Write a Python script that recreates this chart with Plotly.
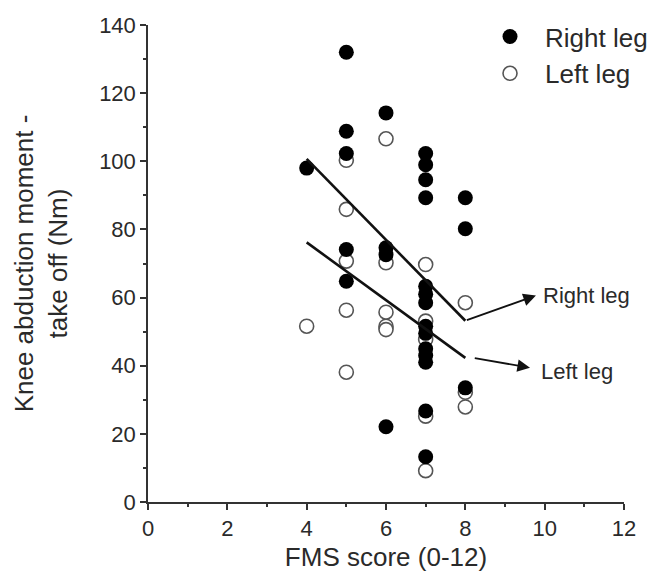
import plotly.graph_objects as go

# FMS score categories and knee abduction moments (Nm)
right_x = [4, 5, 5, 5, 5, 5, 6, 6, 6, 6,
           7, 7, 7, 7, 7, 7, 7, 7, 7, 7, 7, 7, 7, 7,
           8, 8, 8]
right_y = [98.0, 132.0, 108.8, 102.3, 74.1, 64.8, 114.2, 74.6, 72.6, 22.1,
           102.3, 99.0, 94.6, 89.3, 63.3, 61.0, 58.5, 51.6, 49.5, 45.0, 43.0, 41.0, 26.7, 13.3,
           89.3, 80.2, 33.5]

left_x = [4, 5, 5, 5, 5, 5, 6, 6, 6, 6, 6,
          7, 7, 7, 7, 7, 8, 8, 8]
left_y = [51.6, 100.3, 85.9, 70.7, 56.3, 38.1, 106.6, 70.2, 55.7, 51.6, 50.6,
          69.7, 53.1, 47.7, 25.2, 9.2, 58.5, 32.2, 27.9]

# regression line end points
fit_x = [4, 8]
right_fit = [100.7, 53.2]
left_fit = [76.2, 42.3]

# arrow tips for the line labels
right_tip = (9.78, 60.6)
left_tip = (9.63, 39.4)

FONT = "Arial, Liberation Sans, sans-serif"
TXT = "#2a2a2a"

fig = go.Figure()

fig.add_trace(go.Scatter(
    x=left_x, y=left_y, mode="markers", name="Left leg", legendrank=2,
    marker=dict(symbol="circle", size=14, color="white",
                line=dict(color="#555555", width=1.6)),
))
fig.add_trace(go.Scatter(
    x=right_x, y=right_y, mode="markers", name="Right leg", legendrank=1,
    marker=dict(symbol="circle", size=15, color="black",
                line=dict(color="black", width=0)),
))
fig.add_trace(go.Scatter(
    x=fit_x, y=right_fit, mode="lines", showlegend=False,
    line=dict(color="#111111", width=2.6),
))
fig.add_trace(go.Scatter(
    x=fit_x, y=left_fit, mode="lines", showlegend=False,
    line=dict(color="#111111", width=2.6),
))

# arrows from the end of each fit line toward its label
fig.add_annotation(x=right_tip[0], y=right_tip[1], ax=fit_x[1], ay=right_fit[1],
                   xref="x", yref="y", axref="x", ayref="y", text="",
                   showarrow=True, arrowhead=2, arrowsize=1.4, arrowwidth=1.8,
                   arrowcolor="#111111")
fig.add_annotation(x=left_tip[0], y=left_tip[1], ax=fit_x[1] + 0.2, ay=left_fit[1],
                   xref="x", yref="y", axref="x", ayref="y", text="",
                   showarrow=True, arrowhead=2, arrowsize=1.4, arrowwidth=1.8,
                   arrowcolor="#111111")
fig.add_annotation(x=right_tip[0] + 0.12, y=right_tip[1], xref="x", yref="y",
                   text="Right leg", showarrow=False, xanchor="left",
                   font=dict(family=FONT, size=22, color=TXT))
fig.add_annotation(x=left_tip[0] + 0.22, y=left_tip[1] - 1.0, xref="x", yref="y",
                   text="Left leg", showarrow=False, xanchor="left",
                   font=dict(family=FONT, size=22, color=TXT))

axis_common = dict(
    showgrid=False, zeroline=False, showline=True, linecolor="#333333", linewidth=1.5,
    ticks="outside", ticklen=6, tickwidth=1.5, tickcolor="#333333",
    tickfont=dict(family=FONT, size=22, color=TXT),
    mirror=False,
)

fig.update_xaxes(
    range=[0, 12], dtick=2, tick0=0,
    minor=dict(dtick=1, ticks="outside", ticklen=3.5, tickwidth=1.5, tickcolor="#333333"),
    title=dict(text="FMS score (0-12)", font=dict(family=FONT, size=26, color=TXT), standoff=8),
    **axis_common,
)
fig.update_yaxes(
    range=[0, 140], dtick=20, tick0=0,
    minor=dict(dtick=10, ticks="outside", ticklen=3.5, tickwidth=1.5, tickcolor="#333333"),
    title=dict(text="Knee abduction moment -<br>take off (Nm)",
               font=dict(family=FONT, size=26, color=TXT), standoff=24),
    **axis_common,
)

# page body has an 8px margin, so the figure is drawn 8px smaller and offset
fig.update_layout(
    width=654, height=569,
    margin=dict(l=140, r=38, t=17, b=75, autoexpand=False),
    paper_bgcolor="white", plot_bgcolor="white",
    showlegend=True,
    legend=dict(x=0.687, y=1.025, xanchor="left", yanchor="top",
                bgcolor="rgba(0,0,0,0)", borderwidth=0,
                font=dict(family=FONT, size=26, color=TXT),
                itemwidth=60),
)

fig.write_html("out.html")
